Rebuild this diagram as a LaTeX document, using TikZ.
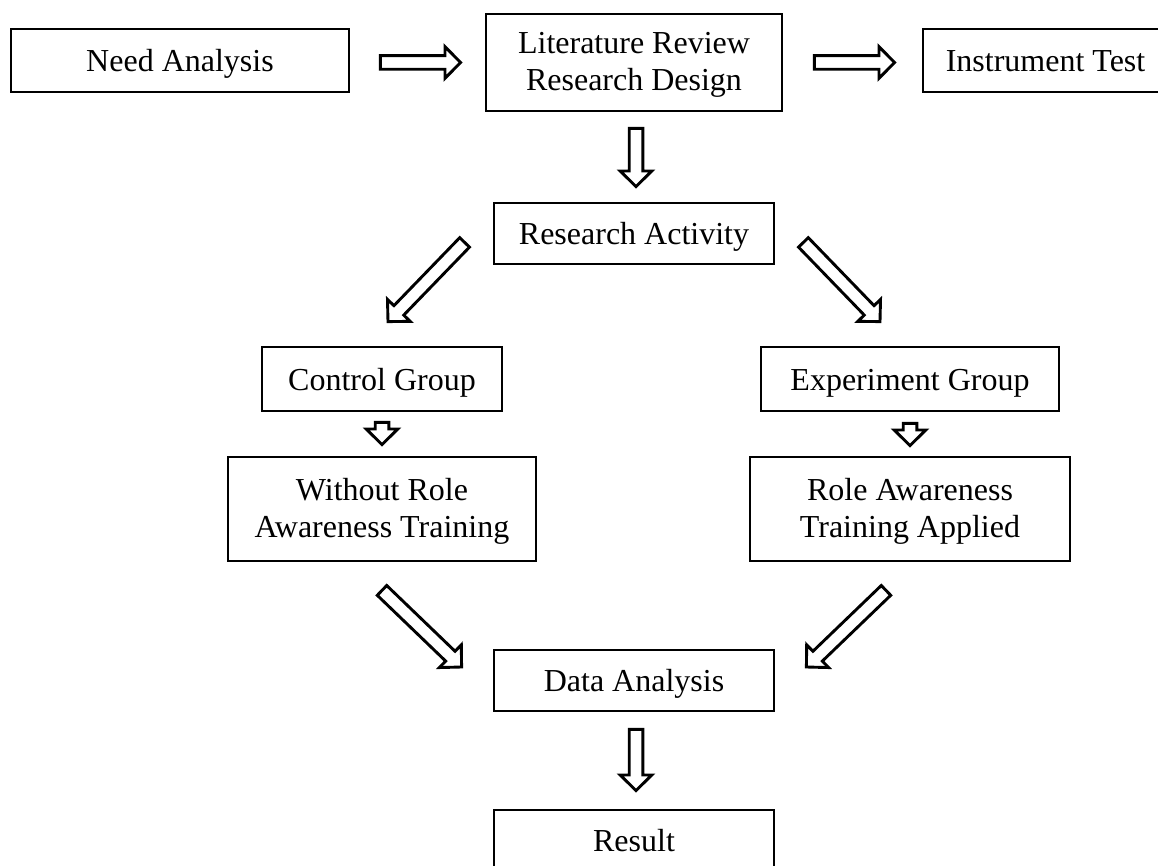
\documentclass[tikz,border=0pt]{standalone}
\usepackage{fontspec}
\setmainfont{Liberation Serif}
\usetikzlibrary{calc}
\newcommand\arrShaft{3.4pt}
\newcommand\arrHeadW{7.9pt}
\newcommand\arrHeadL{7.8pt}
\newcommand\lowertext[1]{\raisebox{-1pt}[\height][\depth]{#1}}
\newcommand\hollowarrow[2]{%
  \coordinate (hb) at ($(#2)!\arrHeadL!(#1)$);
  \draw[blockarrow] ($(#1)!\arrShaft!90:(#2)$) -- ($(hb)!\arrShaft!-90:(#1)$) -- ($(hb)!\arrHeadW!-90:(#1)$) -- (#2) -- ($(hb)!\arrHeadW!90:(#1)$) -- ($(hb)!\arrShaft!90:(#1)$) -- ($(#1)!\arrShaft!-90:(#2)$) -- cycle;}
\begin{document}
\begin{tikzpicture}[x=0.5pt,y=-0.5pt,
  box/.style={draw, line width=1.4pt, inner sep=0pt, align=center, fill=white,
    font=\fontsize{16}{18.5}\selectfont},
  onebox/.style={box, text height=11.2pt, text depth=0pt},
  blockarrow/.style={draw, line width=1.45pt, fill=white, line join=miter}]
\useasboundingbox (0,0) rectangle (1158,866);
\clip (0,0) rectangle (1158,866);
\node[onebox, minimum width=169pt, minimum height=31.5pt] (need) at (180,60.5) {Need Analysis};
\node[box, minimum width=148pt, minimum height=48.5pt] (lit) at (634,62.5) {\lowertext{Literature Review}\\\lowertext{Research Design}};
\node[onebox, minimum width=122.5pt, minimum height=31.5pt] (inst) at (1045.5,60.5) {Instrument Test};
\node[onebox, minimum width=140pt, minimum height=30.5pt] (ra) at (634,233.5) {Research Activity};
\node[onebox, minimum width=120pt, minimum height=32pt] (ctrl) at (382,379) {Control Group};
\node[onebox, minimum width=149pt, minimum height=32pt] (exp) at (910,379) {Experiment Group};
\node[box, minimum width=154pt, minimum height=52pt] (wo) at (382,509) {\lowertext{Without Role}\\\lowertext{Awareness Training}};
\node[box, minimum width=160pt, minimum height=52pt] (raa) at (910,509) {\lowertext{Role Awareness}\\\lowertext{Training Applied}};
\node[onebox, minimum width=140pt, minimum height=30.5pt] (da) at (634,680.5) {Data Analysis};
\node[onebox, minimum width=140pt, minimum height=30.5pt] (res) at (634,840.5) {Result};
% arrow end points
\coordinate (a1s) at ($(need.east)+(30,2)$);
\coordinate (a1e) at ($(lit.west)+(-24,0)$);
\coordinate (a2s) at ($(lit.east)+(31,0)$);
\coordinate (a2e) at ($(inst.west)+(-27,2)$);
\coordinate (a3s) at ($(lit.south)+(2,16)$);
\coordinate (a3e) at ($(ra.north)+(2,-15)$);
\coordinate (a4s) at ($(ra.south west)+(-28,-23)$);
\coordinate (a4e) at ($(ctrl.north)+(6,-24)$);
\coordinate (a5s) at ($(ra.south east)+(28,-23)$);
\coordinate (a5e) at ($(exp.north)+(-30,-24)$);
\coordinate (a6s) at ($(ctrl.south)+(0,10)$);
\coordinate (a6e) at ($(wo.north)+(0,-11)$);
\coordinate (a7s) at ($(exp.south)+(0,11)$);
\coordinate (a7e) at ($(raa.north)+(0,-10)$);
\coordinate (a8s) at ($(wo.south)+(0,28)$);
\coordinate (a8e) at ($(da.west)+(-31,-13.5)$);
\coordinate (a9s) at ($(raa.south)+(-24,28)$);
\coordinate (a9e) at ($(da.east)+(31,-13.5)$);
\coordinate (a10s) at ($(da.south)+(2,17)$);
\coordinate (a10e) at ($(res.north)+(2,-18)$);
\hollowarrow{a1s}{a1e}
\hollowarrow{a2s}{a2e}
\hollowarrow{a3s}{a3e}
\hollowarrow{a4s}{a4e}
\hollowarrow{a5s}{a5e}
\hollowarrow{a6s}{a6e}
\hollowarrow{a7s}{a7e}
\hollowarrow{a8s}{a8e}
\hollowarrow{a9s}{a9e}
\hollowarrow{a10s}{a10e}
\end{tikzpicture}
\end{document}
